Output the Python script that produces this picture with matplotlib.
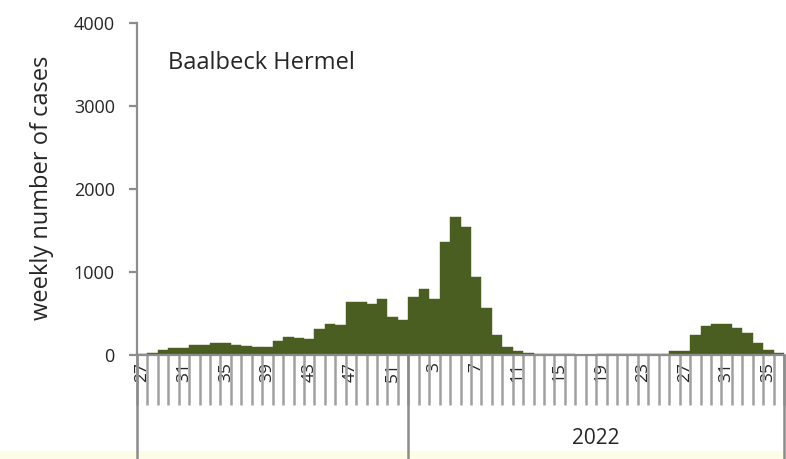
import matplotlib
matplotlib.use("Agg")
import matplotlib.pyplot as plt
import matplotlib.transforms as mtransforms
from matplotlib.patches import Rectangle
import numpy as np

# ---- data ----
weeks_2021 = list(range(27, 53))
weeks_2022 = list(range(1, 37))
cases_2021 = [10, 30, 60, 88, 88, 120, 120, 150, 143, 120, 110, 100, 95,
              170, 220, 200, 190, 308, 368, 360, 640, 640, 620, 680, 460, 420]
cases_2022 = [700, 800, 672, 1360, 1660, 1540, 940, 572, 240, 100, 50, 20,
              15, 10, 10, 10, 5, 0, 15, 15, 15, 15, 15, 15, 15, 50, 50, 240,
              348, 372, 372, 324, 270, 144, 60, 30]
year_labels = ["", "2022"]
region = "Baalbeck Hermel"
y_ticks = [0, 1000, 2000, 3000, 4000]

week_labels = [str(w) for w in weeks_2021] + [str(w) for w in weeks_2022]
values = cases_2021 + cases_2022
n = len(values)
x = np.arange(n)

W, H = 786, 459
plt.rcParams['font.family'] = ['Open Sans', 'DejaVu Sans']
txt = '#262626'
fig = plt.figure(figsize=(W / 100, H / 100), dpi=100)
fig.patch.set_facecolor('white')
fig.patches.append(Rectangle((0, 0), 1, 8 / H, transform=fig.transFigure,
                             facecolor='#fdfde6', edgecolor='none', zorder=-1))

left, right = 137 / W, 784 / W
bottom, top = 1 - 355 / H, 1 - 23 / H
ax = fig.add_axes([left, bottom, right - left, top - bottom])
ax.set_facecolor('white')

bar_color = '#4b5e21'
ax.bar(x, values, width=1.0, color=bar_color, edgecolor=bar_color, linewidth=0.3)

ax.set_xlim(-0.5, n - 0.5)
ax.set_ylim(0, 4000)
ax.set_yticks(y_ticks)
ax.set_yticklabels([str(v) for v in y_ticks], fontsize=13, color=txt)

for s in ['top', 'right']:
    ax.spines[s].set_visible(False)
ax.spines['left'].set_color('#8c8c8c')
ax.spines['left'].set_linewidth(1.6)
ax.spines['bottom'].set_color('#8c8c8c')
ax.spines['bottom'].set_linewidth(1.6)
ax.tick_params(axis='y', length=6, width=1.6, color='#8c8c8c', pad=10)

# x ticks: labels every 4th week, separators between every category
major = x[::4]
ax.set_xticks(major)
ax.set_xticklabels([week_labels[i] for i in major], rotation=90,
                   fontsize=12.5, color=txt)
ax.tick_params(axis='x', which='major', length=0, pad=5)
ax.set_xticks(np.arange(n + 1) - 0.5, minor=True)
ax.tick_params(axis='x', which='minor', length=36, width=1.8, color='#a0a0a0',
               direction='out')

# group separators and year labels
ax_h_px = 355 - 23
trans = mtransforms.blended_transform_factory(ax.transData, ax.transAxes)
ylow = -(H - 355) / ax_h_px
boundaries = [-0.5, len(weeks_2021) - 0.5, n - 0.5]
for b in boundaries:
    ax.plot([b, b], [0, ylow], transform=trans, color='#8c8c8c', lw=1.8,
            clip_on=False)
centers = [(boundaries[0] + boundaries[1]) / 2, (boundaries[1] + boundaries[2]) / 2]
for c, lab in zip(centers, year_labels):
    ax.text(c, -(438 - 355) / ax_h_px, lab, transform=trans, ha='center',
            va='center', fontsize=15, color=txt)

ax.set_ylabel('weekly number of cases', fontsize=17, color=txt)
ax.yaxis.set_label_coords(-(137 - 54) / (784 - 137), 0.5 - (188 - 189) / ax_h_px)
ax.text(168 / W, 1 - 63 / H, region, transform=fig.transFigure, fontsize=17,
        color=txt, va='center', ha='left')

fig.savefig('out.png', dpi=100, facecolor=fig.get_facecolor())
